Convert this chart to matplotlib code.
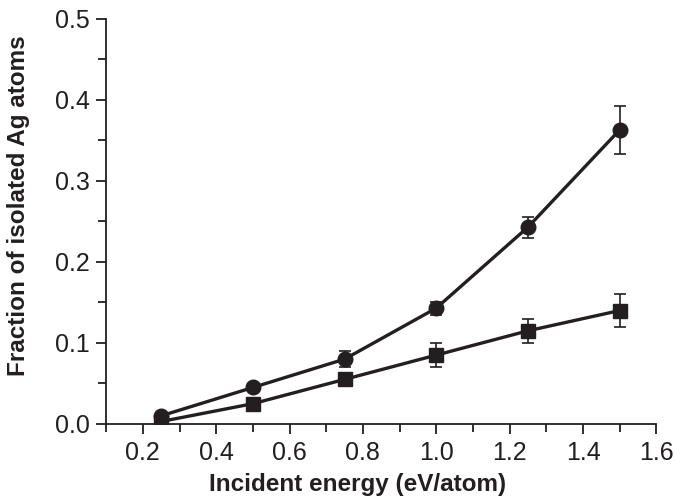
import matplotlib.pyplot as plt
import matplotlib as mpl
from matplotlib.ticker import MultipleLocator

# 数据
energy = [0.25, 0.5, 0.75, 1.0, 1.25, 1.5]
frac_circle = [0.010, 0.045, 0.080, 0.143, 0.243, 0.363]
err_circle = [0.004, 0.004, 0.010, 0.008, 0.013, 0.030]
frac_square = [0.003, 0.025, 0.055, 0.085, 0.115, 0.140]
err_square = [0.002, 0.003, 0.005, 0.015, 0.015, 0.020]

mpl.rcParams['font.family'] = ['Liberation Sans', 'DejaVu Sans']
c = '#231f20'

fig = plt.figure(figsize=(6.76, 4.97), dpi=100)
ax = fig.add_axes([0.157, 0.147, 0.814, 0.815])

ax.errorbar(energy, frac_circle, yerr=err_circle, color=c, lw=2.4, marker='o', ms=10.5,
            capsize=4, elinewidth=1.2, capthick=1.2)
ax.errorbar(energy, frac_square, yerr=err_square, color=c, lw=2.4, marker='s', ms=9.5,
            capsize=4, elinewidth=1.2, capthick=1.2)

ax.set_xlim(0.1, 1.6)
ax.set_ylim(0, 0.5)
ax.xaxis.set_major_locator(MultipleLocator(0.2))
ax.xaxis.set_minor_locator(MultipleLocator(0.1))
ax.yaxis.set_major_locator(MultipleLocator(0.1))
ax.yaxis.set_minor_locator(MultipleLocator(0.05))
ax.set_xticks([0.2, 0.4, 0.6, 0.8, 1.0, 1.2, 1.4, 1.6])

ax.spines['top'].set_visible(False)
ax.spines['right'].set_visible(False)
for s in ['left', 'bottom']:
    ax.spines[s].set_linewidth(1.3)
    ax.spines[s].set_color(c)
ax.tick_params(which='both', direction='out', width=1.3, color=c, labelcolor=c)
ax.tick_params(which='major', length=7, labelsize=18, pad=5)
ax.tick_params(which='minor', length=6)

ax.set_xlabel('Incident energy (eV/atom)', fontsize=17.5, fontweight='bold', color=c)
ax.set_ylabel('Fraction of isolated Ag atoms', fontsize=17.5, fontweight='bold', color=c)
ax.xaxis.set_label_coords(0.457, -0.121)
ax.yaxis.set_label_coords(-0.138, 0.538)

plt.savefig('out.png', dpi=100)
